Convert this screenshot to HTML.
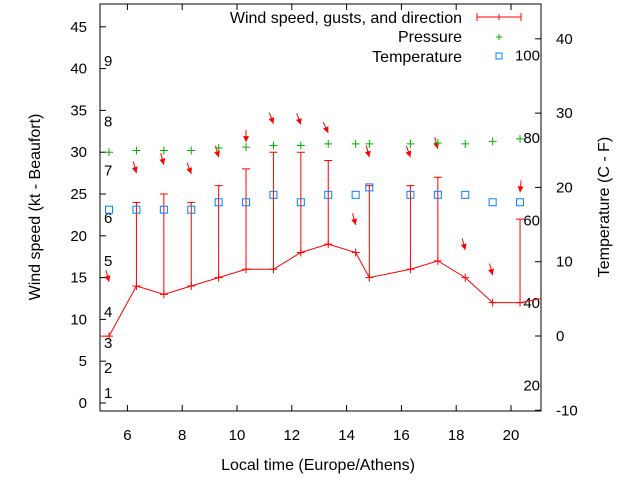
<!DOCTYPE html>
<html><head><meta charset="utf-8"><style>
body{margin:0;background:#fff}
svg{font-family:"Liberation Sans",sans-serif;font-size:15px}
.big{font-size:16px}
</style></head><body>
<svg width="640" height="480">
<g id="g"></g>
</svg>
<script>
const times=[5.33,6.33,7.33,8.33,9.33,10.33,11.33,12.33,13.33,14.33,14.83,16.33,17.33,18.33,19.33,20.33];
const speeds=[8,14,13,14,15,16,16,18,19,18,15,16,17,15,12,12];
const gusts=[null,24,25,24,26,28,30,30,29,null,26,26,27,null,null,22];
const pressure=[30,30.2,30.2,30.2,30.5,30.6,30.8,30.8,31,31,31,31,31.1,31,31.3,31.6];
const tempC=[17,17,17,17,18,18,19,18,19,19,20,19,19,19,18,18];
const arrowKt=[14.5,27.5,28.5,27.4,29.4,31.2,33.4,33.3,32.3,21.3,29.4,29.4,30.4,18.3,15.3,25.2];
const arrowDir=[-15,-15,-15,-20,-15,0,-20,-20,-25,-15,-15,-20,-15,-15,-15,5];
const xTicks=[6,8,10,12,14,16,18,20];
const yTicks=[0,5,10,15,20,25,30,35,40,45];
const y2Ticks=[-10,0,10,20,30,40];
const fLabels=[20,40,60,80,100];
const bft=[1,2,3,4,5,6,7,8,9];
const bftKt=[1.2,4.2,7.2,10.9,17,22.1,27.8,33.7,40.9];

const L=100,R=541,T=4,B=411;
const X=t=>L+(t-5)*27.4;
const Y=k=>403-k*8.36;
const Y2=c=>336-c*7.43;
const g=document.getElementById('g');
function el(tag,attrs,name,text){const e=document.createElementNS('http://www.w3.org/2000/svg',tag);for(const k in attrs)e.setAttribute(k,attrs[k]);


if(text!==undefined)e.textContent=text;g.appendChild(e);return e;}
el('rect',{x:L,y:T,width:R-L,height:B-T,fill:'none',stroke:'#000','stroke-width':1},'plot-border');
xTicks.forEach(t=>{const x=X(t);
el('line',{x1:x,x2:x,y1:B,y2:B-6,stroke:'#000'},'x-tick');
el('line',{x1:x,x2:x,y1:T,y2:T+6,stroke:'#000'},'x-tick-top');
el('text',{x:x,y:B+29,'text-anchor':'middle'},'x-tick-label',t);});
yTicks.forEach(v=>{const y=Y(v);
el('line',{x1:L,x2:L+6,y1:y,y2:y,stroke:'#000'},'y-tick');
el('text',{x:L-13,y:y+5,'text-anchor':'end'},'y-tick-label',v);});
y2Ticks.forEach(v=>{const y=Y2(v);
el('line',{x1:R,x2:R-6,y1:y,y2:y,stroke:'#000'},'y2-tick');
el('text',{x:R+15,y:y+5,'text-anchor':'start'},'y2-tick-label',v);});
fLabels.forEach(f=>{const c=(f-32)*5/9;
el('text',{x:540,y:Y2(c)+5,'text-anchor':'end'},'fahrenheit-label',f);});
bft.forEach((b,i)=>el('text',{x:104,y:Y(bftKt[i])+5},'beaufort-label',b));
el('text',{x:318,y:470,'text-anchor':'middle',class:'big'},'x-axis-title','Local time (Europe/Athens)');
el('text',{x:40,y:207,'text-anchor':'middle',class:'big',transform:'rotate(-90 40 207)'},'y-axis-title','Wind speed (kt - Beaufort)');
el('text',{x:609,y:207,'text-anchor':'middle',class:'big',transform:'rotate(-90 609 207)'},'y2-axis-title','Temperature (C - F)');
let pts=times.map((t,i)=>X(t)+','+Y(speeds[i])).join(' ');
pts=L+','+Y(speeds[0])+' '+pts+' '+R+','+Y(12.5);
el('polyline',{points:pts,fill:'none',stroke:'red','stroke-width':1},'wind-speed-line');
times.forEach((t,i)=>{const x=X(t),y=Y(speeds[i]);
el('path',{d:`M${x-4},${y}H${x+4}M${x},${y-4}V${y+4}`,stroke:'red'},'wind-point');
if(gusts[i]!==null){const gy=Y(gusts[i]);
el('path',{d:`M${x},${y}V${gy}M${x-4},${gy}H${x+4}`,stroke:'red'},'gust-bar');}
const ay=Y(arrowKt[i]);const a=arrowDir[i]*Math.PI/180;const len=12;
const tx=x+Math.sin(a)*len,ty=ay-Math.cos(a)*len;
el('line',{x1:tx,y1:ty,x2:x,y2:ay,stroke:'red','stroke-width':1},'direction-arrow-shaft');
const ux=(x-tx)/len,uy=(ay-ty)/len;
el('polygon',{points:`${x},${ay} ${x-ux*6-uy*3},${ay-uy*6+ux*3} ${x-ux*6+uy*3},${ay-uy*6-ux*3}`,fill:'red'},'direction-arrow-head');
const py=Y(pressure[i]);
el('path',{d:`M${x-4},${py}H${x+4}M${x},${py-4}V${py+4}`,stroke:'#00b000'},'pressure-point');
const ty2=Y2(tempC[i]);
el('rect',{x:x-3.5,y:ty2-3.5,width:7,height:7,fill:'none',stroke:'#0080ff'},'temperature-point');});
el('text',{x:462,y:23,'text-anchor':'end',class:'big'},'legend-wind-label','Wind speed, gusts, and direction');
el('path',{d:'M477,17H521M477,13V21M521,13V21M499,14V20',stroke:'red'},'legend-wind-sample');
el('text',{x:462,y:42,'text-anchor':'end',class:'big'},'legend-pressure-label','Pressure');
el('path',{d:'M496,37H502M499,34V40',stroke:'#00b000'},'legend-pressure-sample');
el('text',{x:462,y:62,'text-anchor':'end',class:'big'},'legend-temperature-label','Temperature');
el('rect',{x:496,y:53,width:6,height:6,fill:'none',stroke:'#0080ff'},'legend-temperature-sample');
</script>
</body></html>
